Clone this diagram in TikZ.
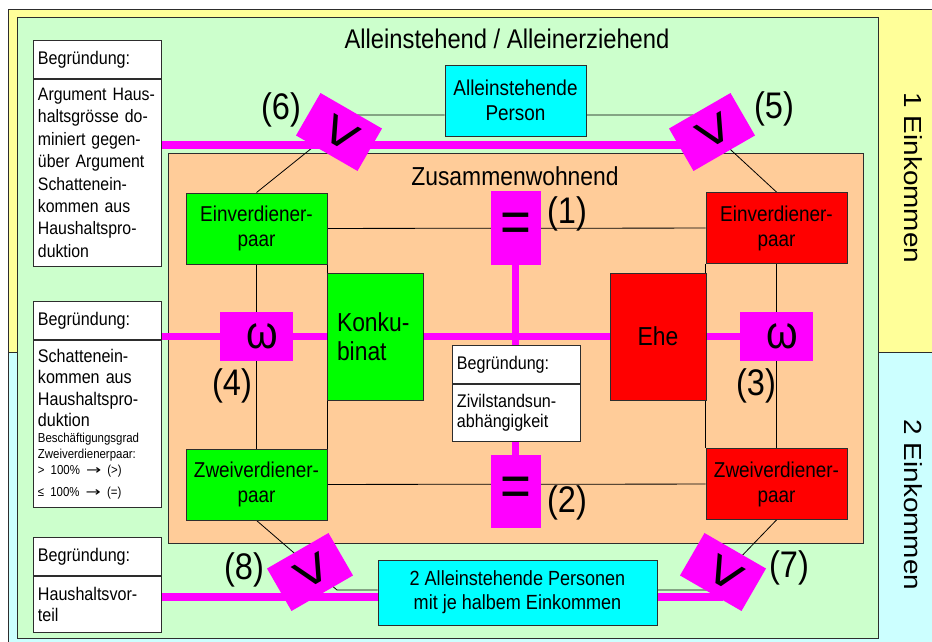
\documentclass[tikz,border=0pt]{standalone}
\usepackage{fontspec}
\setmainfont[FakeStretch=0.88]{Liberation Sans}
\newfontfamily\vertfont[FakeStretch=1.13]{Liberation Sans}
\newfontfamily\arrowfont{DejaVu Sans}
\usepackage{tikz}
\usetikzlibrary{positioning}
\definecolor{bandyellow}{RGB}{255, 255, 153}
\definecolor{bandcyan}{RGB}{204, 255, 255}
\definecolor{singlegreen}{RGB}{204, 255, 204}
\definecolor{homeorange}{RGB}{255, 204, 153}
\definecolor{boxcyan}{RGB}{0, 255, 255}
\definecolor{boxgreen}{RGB}{0, 255, 0}
\definecolor{boxred}{RGB}{255, 0, 0}
\definecolor{cmpmagenta}{RGB}{255, 0, 255}
\definecolor{framegray}{RGB}{45, 45, 45}
\newcommand{\setsize}[2]{\fontsize{#1}{#2}\selectfont}
\newcommand{\thenarrow}{{\arrowfont\scalebox{1.4}[1]{→}}}
\pgfdeclarelayer{regions}
\pgfdeclarelayer{links}
\pgfsetlayers{regions,links,main}

\begin{document}
\begin{tikzpicture}[
    x=1pt, y=-1pt,
    region/.style={draw=framegray, line width=1pt},
    title/.style={font=\setsize{27}{30}},
    case/.style={rectangle, draw=framegray, line width=0.9pt, align=center,
                 inner sep=0pt, font=\setsize{21.5}{25}},
    single/.style={case, fill=boxcyan, minimum width=141pt, minimum height=71pt},
    konk/.style={case, fill=boxgreen},
    ehe/.style={case, fill=boxred},
    pairbox/.style={minimum width=141pt, minimum height=71pt},
    mainbox/.style={minimum width=96pt, minimum height=127pt, font=\setsize{26}{29}},
    hdr/.style={rectangle, draw=framegray, fill=white, line width=0.9pt, text width=119pt,
                inner xsep=4.5pt, inner ysep=0pt, minimum height=38pt, align=left,
                anchor=north west, font=\setsize{18.3}{21.5}},
    cmp/.style={rectangle, fill=cmpmagenta, inner sep=0pt},
    eqbox/.style={cmp, minimum width=50pt, minimum height=74pt, font=\setsize{60}{64}},
    ombox/.style={cmp, minimum width=73pt, minimum height=49pt, font=\setsize{46}{48}},
    gtbox/.style={cmp, minimum width=71pt, minimum height=49pt, font=\setsize{64}{66}},
    tag/.style={font=\setsize{37}{40}},
    link/.style={draw=black, line width=0.8pt},
    magline/.style={draw=cmpmagenta, line width=7.5pt}
]
    \useasboundingbox (0,0) rectangle (932,642);

    % Regions
    \begin{pgfonlayer}{regions}
        \draw[region, fill=bandyellow] (8,10) rectangle (950,352);
        \draw[region, fill=bandcyan] (8,352) rectangle (950,660);
        \draw[region, fill=singlegreen] (17,18) rectangle (878,638);
        \draw[region, fill=homeorange] (168,153) rectangle (863,543);
    \end{pgfonlayer}
    \node[title] (singletitle) at (507,39) {Alleinstehend / Alleinerziehend};
    \node[title, font=\setsize{26}{29}] (hometitle) at (515,176) {Zusammenwohnend};
    \node[font=\vertfont\setsize{24.7}{28}, rotate=-90] (oneincome) at (913,178) {1 Einkommen};
    \node[font=\vertfont\setsize{24.7}{28}, rotate=-90] (twoincome) at (913,505) {2 Einkommen};

    % Households
    \node[single] (alone) at (515.5,100.5) {Alleinstehende\\Person};
    \node[single, minimum width=279pt, minimum height=65pt, font=\setsize{20.5}{24}]
        (alonetwo) at (517.5,592.5) {2 Alleinstehende Personen\\mit je halbem Einkommen};
    \node[konk, pairbox] (oneG) at (256.5,228.5) {Einverdiener-\\paar};
    \node[konk, pairbox] (twoG) at (256.5,484.5) {Zweiverdiener-\\paar};
    \node[konk, mainbox, align=left, text width=76pt] (konkubinat) at (375,336.5) {Konku-\\binat};
    \node[ehe, mainbox] (ehe) at (658,336.5) {Ehe};
    \node[ehe, pairbox] (oneR) at (776.5,228) {Einverdiener-\\paar};
    \node[ehe, pairbox] (twoR) at (776.5,484) {Zweiverdiener-\\paar};

    % Reasons
    \node[hdr] (reasonAh) at (33,40) {Begründung:};
    \node[hdr, below=0pt of reasonAh, minimum height=187pt, font=\setsize{18}{22.4}] (reasonA)
        {Argument Haus-\\haltsgrösse do-\\miniert gegen-\\über Argument\\Schattenein-\\kommen aus\\Haushaltspro-\\duktion};
    \node[hdr] (reasonBh) at (33,301) {Begründung:};
    \node[hdr, below=0pt of reasonBh, minimum height=167pt] (reasonB)
        {Schattenein-\\kommen aus\\Haushaltspro-\\duktion\par
         \setsize{13}{16}Beschäftigungsgrad\\Zweiverdienerpaar:\\> 100\% \thenarrow{} (>)\\≤ 100\% \thenarrow{} (=)};
    \node[hdr] (reasonCh) at (33,537) {Begründung:};
    \node[hdr, below=0pt of reasonCh, minimum height=56pt] (reasonC) {Haushaltsvor-\\teil};
    \node[hdr] (reasonDh) at (452,345) {Begründung:};
    \node[hdr, below=0pt of reasonDh, minimum height=57pt, font=\setsize{18.3}{20.7}] (reasonD)
        {Zivilstandsun-\\abhängigkeit};

    % Links
    \begin{pgfonlayer}{links}
        \coordinate (bendSix) at (353,115);
        \coordinate (bendFive) at (693,115);
        \coordinate (bendEight) at (337,590);
        \coordinate (bendSeven) at (709,590);
        \draw[link] (alone.west |- bendSix) -- (bendSix) -- (oneG.north);
        \draw[link] (alone.east |- bendFive) -- (bendFive) -- (oneR.north);
        \draw[link] (twoG.south) -- (bendEight) -- (alonetwo.west |- bendEight);
        \draw[link] (twoR.south) -- (bendSeven) -- (alonetwo.east |- bendSeven);
        \draw[link] (oneG) -- (oneR);
        \draw[link] (twoG) -- (twoR);
        \draw[link] (oneG) -- (twoG);
        \draw[link] (oneR) -- (twoR);
        \draw[link] (oneG.south east) -- (twoG.north east);
        \draw[link] (oneR.south west) -- (twoR.north west);

        \coordinate (barTop) at (712,145);
        \coordinate (barLow) at (723,597);
        \draw[magline] (reasonA.east |- barTop) -- (barTop);
        \draw[magline] (reasonBh.south east |- ehe) -- (776.5,336.5);
        \draw[magline] (515.5,228) -- (515.5,491.5);
        \draw[magline] (reasonC.east |- barLow) -- (barLow);
    \end{pgfonlayer}

    % Comparisons
    \node[eqbox] (eqOne) at (516,228) {=};
    \node[eqbox, minimum height=73pt] (eqTwo) at (516,491.5) {=};
    \node[ombox] (omFour) at (256.5,336.5) {\hspace{12pt}ω};
    \node[ombox] (omThree) at (776.5,336.5) {\hspace{12pt}ω};
    \node[gtbox, rotate=-30] (gtSix) at (339,132) {\rotatebox{-90}{>}};
    \node[gtbox, rotate=30] (gtFive) at (712,132) {\rotatebox{-90}{>}};
    \node[gtbox, rotate=30] (gtEight) at (310,572) {\rotatebox{-90}{>}};
    \node[gtbox, rotate=-30] (gtSeven) at (723,572) {\rotatebox{-90}{>}};

    \node[tag] (tagOne) at (567,214) {(1)};
    \node[tag] (tagTwo) at (567,503) {(2)};
    \node[tag] (tagThree) at (756,386) {(3)};
    \node[tag] (tagFour) at (232,386) {(4)};
    \node[tag] (tagFive) at (774,109) {(5)};
    \node[tag] (tagSix) at (281,110) {(6)};
    \node[tag] (tagSeven) at (789,568) {(7)};
    \node[tag] (tagEight) at (244,570) {(8)};
\end{tikzpicture}
\end{document}
